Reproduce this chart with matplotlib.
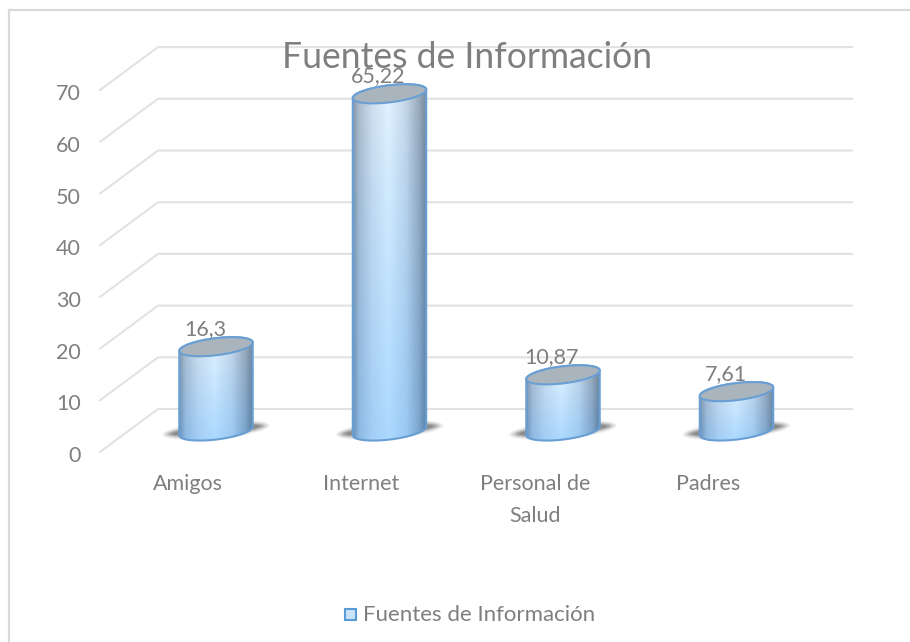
import numpy as np
import matplotlib
matplotlib.use("Agg")
import matplotlib.pyplot as plt
from matplotlib.path import Path
from matplotlib.patches import PathPatch, Rectangle
from matplotlib.lines import Line2D
from matplotlib.colors import LinearSegmentedColormap
from matplotlib.transforms import ScaledTranslation

categories = ["Amigos", "Internet", "Personal de\nSalud", "Padres"]
values = [16.3, 65.22, 10.87, 7.61]
value_labels = ["16,3", "65,22", "10,87", "7,61"]
y_ticks = [0, 10, 20, 30, 40, 50, 60, 70]
title = "Fuentes de Información"
series = "Fuentes de Información"

W, H = 910, 642
# layout in pixels
L, R, T, B = 100, 852, 45, 452
PX_Y = 5.17          # px per unit
PX_X = 173.5         # px per category
X0 = 216             # px of first category
DEPTH = (58, 43)
BASE = 21            # px, cylinder base above the front floor edge
HALF_W = 37
GREY = "#7f7f7f"
FONT = ["Lato", "DejaVu Sans"]
LABEL = 15.5

fig = plt.figure(figsize=(W / 100, H / 100), dpi=100)
# chart frame: only top and left edges are inside the picture
fig.add_artist(Line2D([8.5 / W, 8.5 / W, 1], [0, 1 - 10 / H, 1 - 10 / H], transform=fig.transFigure,
                      color="#d9d9d9", lw=1.6, solid_joinstyle="miter"))
ax = fig.add_axes([L / W, 1 - B / H, (R - L) / W, (B - T) / H])
ax.patch.set_alpha(0)
for s in ax.spines.values():
    s.set_visible(False)
xlim = ((L - X0) / PX_X, (R - X0) / PX_X)
ylim = (0, (B - T) / PX_Y)
dx = DEPTH[0] / PX_X
dy = DEPTH[1] / PX_Y
base = BASE / PX_Y

# gridlines: floor diagonal plus back wall
for v in y_ticks:
    ax.plot([xlim[0], xlim[0] + dx, xlim[1]], [v, v + dy, v + dy], color="#e2e2e2", lw=1.5,
            solid_joinstyle="miter", clip_on=False, zorder=1)

ax.set_xticks(range(len(categories)))
ax.set_xticklabels(categories, family=FONT, fontsize=LABEL, color=GREY, linespacing=1.75, va="top")
ax.set_yticks(y_ticks)
ax.set_yticklabels([str(v) for v in y_ticks], family=FONT, fontsize=LABEL, color=GREY)
ax.tick_params(length=0)
ax.tick_params(axis="x", pad=16)
ax.tick_params(axis="y", pad=14)
for lab in ax.get_xticklabels():
    lab.set_transform(lab.get_transform() + ScaledTranslation(-28 / 100, 0, fig.dpi_scale_trans))
for lab in ax.get_yticklabels():
    lab.set_transform(lab.get_transform() + ScaledTranslation(0, -2 / 100, fig.dpi_scale_trans))

edge = "#6a9fd4"
top_col = "#aab4bd"
cmap_h = LinearSegmentedColormap.from_list("h", [(0, "#8a9aab"), (0.08, "#aebdcc"), (0.25, "#cfdeec"), (0.48, "#e4f4ff"),
                                                 (0.72, "#c6d7e8"), (0.9, "#9aaabb"), (1, "#75879a")])
cmap_low = LinearSegmentedColormap.from_list("l", [(0, "#6a93bd"), (0.08, "#8db9e3"), (0.25, "#a2cdf5"), (0.48, "#acd9ff"),
                                                   (0.72, "#9ac9f3"), (0.9, "#7ba6cf"), (1, "#5a80a6")])


def ell(cx, cy, a=HALF_W, b=8.5, tilt=7, n=80):
    t = np.linspace(0, 2 * np.pi, n)
    c, s = np.cos(np.radians(tilt)), np.sin(np.radians(tilt))
    ex, ey = a * np.cos(t), b * np.sin(t)
    return cx + (ex * c - ey * s) / PX_X, cy + (ex * s + ey * c) / PX_Y


for i, v in enumerate(values):
    yb, yt = base, base + v
    # soft floor shadow
    for a, b, al in [(54, 9, .05), (53, 8, .07), (51, 7, .10), (49, 6, .14), (47, 5, .2), (44, 4, .25)]:
        sx, sy = ell(i, yb + 1 / PX_Y, a=a, b=b, tilt=5)
        ax.fill(sx, sy, color="#404040", alpha=al, lw=0, zorder=2)
    # body outline: lower half of base ellipse and upper half of top ellipse
    nh = 60
    t_low = np.linspace(np.pi, 2 * np.pi, nh)
    t_up = np.linspace(0, np.pi, nh)
    c, s = np.cos(np.radians(7)), np.sin(np.radians(7))
    bx = i + (HALF_W * np.cos(t_low) * c - 8.5 * np.sin(t_low) * s) / PX_X
    by = yb + (HALF_W * np.cos(t_low) * s + 8.5 * np.sin(t_low) * c) / PX_Y
    ux = i + (HALF_W * np.cos(t_up) * c - 8.5 * np.sin(t_up) * s) / PX_X
    uy = yt + (HALF_W * np.cos(t_up) * s + 8.5 * np.sin(t_up) * c) / PX_Y
    px, py = np.r_[bx, ux], np.r_[by, uy]
    tx, ty = ell(i, yt)
    path = Path(np.c_[np.r_[px, px[0]], np.r_[py, py[0]]])
    # gradient body
    nx, ny = 64, 48
    gh = cmap_h(np.linspace(0, 1, nx))[:, :3]
    gl = cmap_low(np.linspace(0, 1, nx))[:, :3]
    w = (np.linspace(1, 0, ny)[:, None, None]) ** 0.9
    img = gh[None, :, :] * (1 - w) + gl[None, :, :] * w
    y0, y1 = py.min(), py.max()
    im = ax.imshow(img, extent=(px.min(), px.max(), y0, y1), origin="lower",
                   aspect="auto", zorder=3, interpolation="bilinear")
    patch = PathPatch(path, transform=ax.transData, fc="none", ec=edge, lw=1.5, zorder=4)
    ax.add_patch(patch)
    im.set_clip_path(patch)
    ax.fill(tx, ty, fc=top_col, ec=edge, lw=1.5, zorder=5)
    ax.annotate(value_labels[i], (i, yt), xytext=(-11 * .72, 18 * .72), textcoords="offset points",
                ha="center", va="center", family=FONT, fontsize=LABEL, color=GREY, zorder=6)

ax.set_xlim(xlim)
ax.set_ylim(ylim)

fig.text(467 / W, 1 - 57 / H, title, ha="center", va="center", family=FONT, fontsize=25.6, color=GREY)

fig.add_artist(Rectangle((344.5 / W, 1 - 620 / H), 11.5 / W, 11.5 / H, transform=fig.transFigure,
                         fc="#c9e2f8", ec="#5b9bd5", lw=1.5))
fig.text(363 / W, 1 - 615 / H, series, ha="left", va="center", family=FONT, fontsize=16, color=GREY)

fig.savefig("out.png", dpi=100)
